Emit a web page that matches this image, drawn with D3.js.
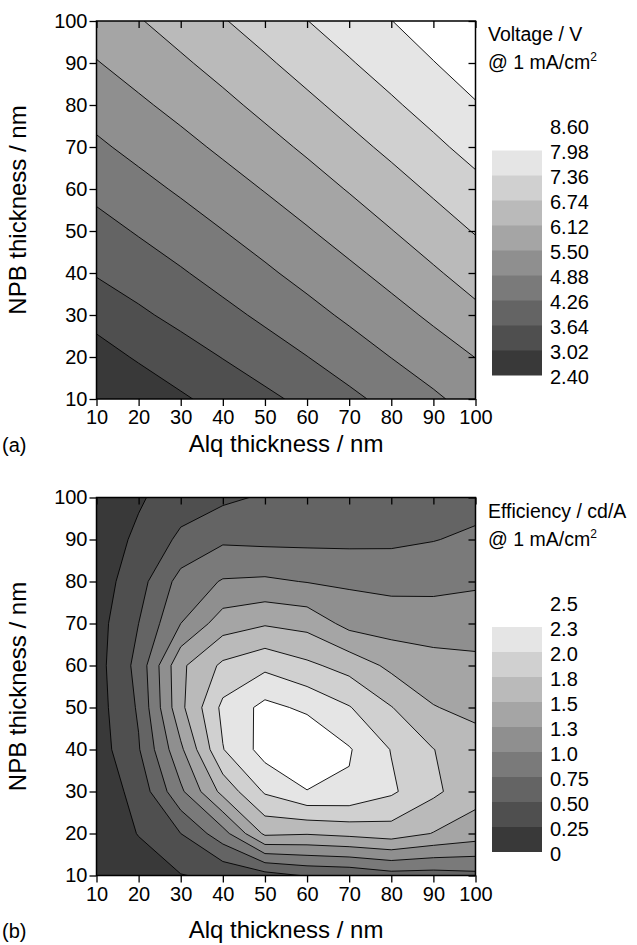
<!DOCTYPE html>
<html><head><meta charset="utf-8">
<script src="https://cdn.jsdelivr.net/npm/d3@7"></script>
<style>
body{margin:0;background:#fff}
text{font-family:Arial,"Liberation Sans",Helvetica,sans-serif;fill:#000}
</style>
</head><body>
<svg id="chart" width="637" height="945"></svg>
<script>
// ---------- data ----------
const alqThickness = [10,20,30,40,50,60,70,80,90,100];   // x grid (nm)
const npbThickness = [10,20,30,40,50,60,70,80,90,100];   // y grid (nm)
const axisTicks = [10,20,30,40,50,60,70,80,90,100];

// Voltage (V) @ 1 mA/cm2 ; rows = NPB 10..100, columns = Alq 10..100
const voltageGrid = [
  [2.40, 2.67, 2.94, 3.22, 3.50, 3.80, 4.12, 4.45, 4.78, 5.12],
  [2.80, 3.08, 3.36, 3.66, 3.96, 4.25, 4.57, 4.89, 5.20, 5.51],
  [3.20, 3.53, 3.82, 4.09, 4.38, 4.68, 4.99, 5.29, 5.61, 5.97],
  [3.69, 3.95, 4.20, 4.49, 4.78, 5.08, 5.37, 5.69, 6.04, 6.38],
  [4.05, 4.31, 4.59, 4.87, 5.16, 5.45, 5.77, 6.10, 6.44, 6.78],
  [4.41, 4.69, 4.96, 5.24, 5.53, 5.84, 6.16, 6.49, 6.83, 7.18],
  [4.78, 5.05, 5.32, 5.61, 5.91, 6.22, 6.55, 6.88, 7.23, 7.57],
  [5.12, 5.40, 5.68, 5.97, 6.28, 6.60, 6.93, 7.27, 7.60, 7.94],
  [5.47, 5.75, 6.03, 6.33, 6.65, 6.98, 7.31, 7.63, 7.96, 8.28],
  [5.81, 6.08, 6.38, 6.70, 7.02, 7.35, 7.66, 7.97, 8.29, 8.60]
];
const voltageLevels = [2.40, 3.02, 3.64, 4.26, 4.88, 5.50, 6.12, 6.74, 7.36, 7.98, 8.60];
const voltageLabels = ["2.40","3.02","3.64","4.26","4.88","5.50","6.12","6.74","7.36","7.98","8.60"];

// Efficiency (cd/A) @ 1 mA/cm2 ; rows = NPB 10..100, columns = Alq 10..100
const efficiencyGrid = [
  [0.03, 0.12, 0.24, 0.30, 0.40, 0.52, 0.55, 0.65, 0.64, 0.68],
  [0.07, 0.26, 0.50, 0.90, 1.55, 1.52, 1.57, 1.63, 1.49, 1.38],
  [0.10, 0.33, 0.95, 1.58, 2.03, 2.24, 2.22, 2.04, 1.80, 1.59],
  [0.12, 0.48, 1.20, 1.99, 2.35, 2.50, 2.27, 1.99, 1.755, 1.60],
  [0.14, 0.53, 1.44, 2.06, 2.32, 2.20, 2.015, 1.76, 1.51, 1.44],
  [0.15, 0.58, 1.45, 1.80, 1.94, 1.80, 1.66, 1.44, 1.37, 1.30],
  [0.15, 0.50, 1.00, 1.38, 1.475, 1.42, 1.17, 1.13, 1.09, 1.15],
  [0.12, 0.40, 0.84, 1.02, 1.04, 0.99, 0.96, 0.93, 0.95, 0.96],
  [0.10, 0.30, 0.55, 0.71, 0.69, 0.69, 0.69, 0.70, 0.74, 0.80],
  [0.08, 0.22, 0.38, 0.45, 0.53, 0.57, 0.58, 0.60, 0.62, 0.65]
];
const efficiencyLevels = [0, 0.25, 0.50, 0.75, 1.0, 1.25, 1.5, 1.75, 2.0, 2.25, 2.5];
const efficiencyLabels = ["0","0.25","0.50","0.75","1.0","1.3","1.5","1.8","2.0","2.3","2.5"];

// ---------- style ----------
const bandColors = ["#393939","#4f4f4f","#646464","#7a7a7a","#8f8f8f","#a5a5a5","#bababa","#d0d0d0","#e5e5e5","#ffffff"];

const svg = d3.select("#chart");
const plotLeft = 96.5, plotRight = 475.5, plotH = 378;

const panels = [
  {top: 21, grid: voltageGrid, levels: voltageLevels, labels: voltageLabels,
   title1: "Voltage / V", tag: "(a)", titleY: 452},
  {top: 497.5, grid: efficiencyGrid, levels: efficiencyLevels, labels: efficiencyLabels,
   title1: "Efficiency / cd/A", tag: "(b)", titleY: 938}
];

panels.forEach((p, pi) => {
  const top = p.top, bottom = top + plotH;
  const x = d3.scaleLinear().domain([10, 100]).range([plotLeft, plotRight]);
  const y = d3.scaleLinear().domain([10, 100]).range([bottom, top]);
  const n = alqThickness.length, m = npbThickness.length;
  const gx = d3.scaleLinear().domain([0.5, n - 0.5]).range([alqThickness[0], alqThickness[n - 1]]);
  const gy = d3.scaleLinear().domain([0.5, m - 0.5]).range([npbThickness[0], npbThickness[m - 1]]);
  const proj = d3.geoTransform({point(px, py) { this.stream.point(x(gx(px)), y(gy(py))); }});
  const path = d3.geoPath(proj);

  const clipId = "clip" + pi;
  svg.append("clipPath").attr("id", clipId).append("rect")
    .attr("x", plotLeft).attr("y", top).attr("width", plotRight - plotLeft).attr("height", plotH);

  const g = svg.append("g");
  const plot = g.append("g").attr("clip-path", `url(#${clipId})`);
  plot.append("rect").attr("x", plotLeft).attr("y", top)
    .attr("width", plotRight - plotLeft).attr("height", plotH).attr("fill", bandColors[0]);

  const values = p.grid.flat();
  const thresholds = p.levels.slice(1, p.levels.length - 1);
  const contours = d3.contours().size([n, m]).thresholds(thresholds)(values);
  plot.selectAll("path.band").data(contours).join("path")
    .attr("class", "band")
    .attr("d", path)
    .attr("fill", (d, i) => bandColors[i + 1])
    .attr("stroke", "#000")
    .attr("stroke-width", 0.9)
    .attr("stroke-linejoin", "round");

  // axes
  const styleAxis = sel => {
    sel.select(".domain").remove();
    sel.selectAll(".tick line").attr("stroke", "#000").attr("stroke-width", 1.3);
    sel.selectAll("text").attr("font-size", 20).attr("font-family", "Arial, 'Liberation Sans', sans-serif");
  };
  g.append("g").attr("transform", `translate(0,${bottom})`)
    .call(d3.axisBottom(x).tickValues(axisTicks).tickSize(7).tickPadding(4).tickFormat(d3.format("d")))
    .call(styleAxis);
  g.append("g").attr("transform", `translate(0,${top})`)
    .call(d3.axisTop(x).tickValues(axisTicks).tickSize(-7).tickFormat(""))
    .call(styleAxis);
  g.append("g").attr("transform", `translate(${plotLeft},0)`)
    .call(d3.axisLeft(y).tickValues(axisTicks).tickSize(7).tickPadding(2).tickFormat(d3.format("d")))
    .call(styleAxis);
  g.append("g").attr("transform", `translate(${plotRight},0)`)
    .call(d3.axisRight(y).tickValues(axisTicks).tickSize(-7).tickFormat(""))
    .call(styleAxis);
  g.append("rect").attr("x", plotLeft).attr("y", top)
    .attr("width", plotRight - plotLeft).attr("height", plotH)
    .attr("fill", "none").attr("stroke", "#000").attr("stroke-width", 1.5);

  // axis titles
  g.append("text").attr("x", (plotLeft + plotRight) / 2).attr("y", p.titleY)
    .attr("text-anchor", "middle").attr("font-size", 24).text("Alq thickness / nm");
  g.append("text").attr("x", 2).attr("y", p.titleY)
    .attr("font-size", 20).text(p.tag);
  g.append("text").attr("transform", `translate(26,${(top + bottom) / 2}) rotate(-90)`)
    .attr("text-anchor", "middle").attr("font-size", 24).text("NPB thickness / nm");

  // legend
  const barBottom = top + 354, step = 25;
  const ly = d3.scaleLinear().domain([0, p.levels.length - 1])
    .range([barBottom, barBottom - step * (p.levels.length - 1)]);
  const idx = d3.range(p.levels.length - 1);
  g.selectAll("rect.leg").data(idx).join("rect").attr("class", "leg")
    .attr("x", 492).attr("width", 50)
    .attr("y", i => ly(i + 1)).attr("height", i => ly(i) - ly(i + 1) + 0.5)
    .attr("fill", i => bandColors[i]);
  g.selectAll("text.leglab").data(p.labels).join("text").attr("class", "leglab")
    .attr("x", 550).attr("y", (d, i) => ly(i) + 2).attr("dy", "0.35em")
    .attr("font-size", 20).text(d => d);

  g.append("text").attr("x", 488).attr("y", top + 20).attr("font-size", 19.5).text(p.title1);
  const t2 = g.append("text").attr("x", 488).attr("y", top + 48).attr("font-size", 19.5);
  t2.append("tspan").text("@ 1 mA/cm");
  t2.append("tspan").attr("font-size", 12).attr("dy", -8).text("2");
});
</script>
</body></html>
